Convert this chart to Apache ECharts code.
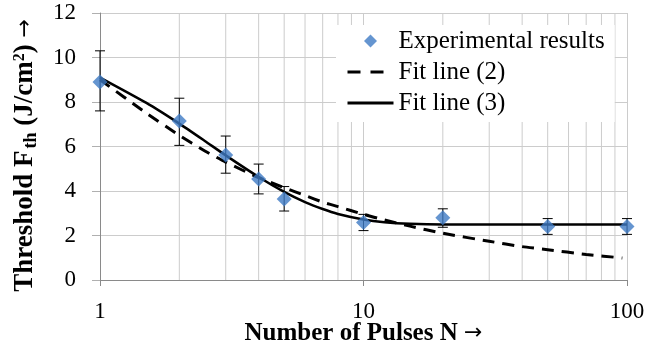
<!DOCTYPE html>
<html>
<head>
<meta charset="utf-8">
<script src="https://cdn.jsdelivr.net/npm/echarts@6/dist/echarts.min.js"></script>
<style>
html, body { margin: 0; padding: 0; background: #fff; }
#chart { width: 660px; height: 351px; }
</style>
</head>
<body>
<div id="chart"></div>
<script>
// number of pulses of the measurements
var pulses = [1, 2, 3, 4, 5, 10, 20, 50, 100];
// measured threshold and its error bar (low / high)
var threshold = [8.9, 7.15, 5.62, 4.54, 3.64, 2.58, 2.8, 2.41, 2.41];
var errLow = [7.6, 6.05, 4.8, 3.87, 3.1, 2.22, 2.37, 2.05, 2.05];
var errHigh = [10.3, 8.17, 6.47, 5.21, 4.2, 2.95, 3.2, 2.76, 2.76];

// fit line (2)
var fit2N = [1, 1.5, 2, 2.5, 3, 4, 5, 6, 7, 8, 10, 12, 15, 20, 30, 40, 50, 70, 96];
var fit2F = [9.0, 7.5, 6.5, 5.8, 5.3, 4.6, 4.15, 3.8, 3.5, 3.3, 2.95, 2.7, 2.42, 2.1, 1.74, 1.5, 1.36, 1.15, 0.99];

// fit line (3)
var fit3N = [1, 1.5, 2, 2.5, 3, 4, 5, 6, 7, 8, 10, 12, 15, 20, 30, 50, 100];
var fit3F = [9.1, 7.96, 7.03, 6.25, 5.6, 4.63, 3.96, 3.5, 3.19, 2.97, 2.72, 2.6, 2.53, 2.5, 2.5, 2.5, 2.5];

// minor vertical grid lines of the log axis
var minorX = [2, 3, 4, 5, 6, 7, 8, 9, 20, 30, 40, 50, 60, 70, 80, 90];

var yTicks = { min: 0, max: 12, step: 2 };

var serif = '"Liberation Serif", "Times New Roman", serif';
var blue = '#3e7bc4';

function zip(a, b) {
	var out = [];
	for (var i = 0; i < a.length; i++) out.push([a[i], b[i]]);
	return out;
}

var errData = [];
for (var i = 0; i < pulses.length; i++) {
	errData.push([pulses[i], errLow[i], errHigh[i]]);
}

// arrow glyph style used by both axis names
var arrStyle = { fontFamily: '"DejaVu Sans"', fontSize: 22, fontWeight: 'normal', color: '#000' };

var chart = echarts.init(document.getElementById('chart'), null, { renderer: 'canvas' });

var option = {
	animation: false,
	backgroundColor: '#fff',
	grid: { left: 100, right: 33, top: 13, bottom: 71, outerBoundsMode: 'none', containLabel: false },
	legend: {
		orient: 'vertical',
		left: 336,
		top: 25,
		padding: [3, 10, 6, 10],
		itemGap: 5,
		itemWidth: 46,
		itemHeight: 13,
		backgroundColor: '#fff',
		textStyle: { fontFamily: serif, fontSize: 25, color: '#000', lineHeight: 26 },
		data: [
			{ name: 'Experimental results', icon: 'path://M7,0L14,7L7,14L0,7Z', itemStyle: { color: blue } },
			{ name: 'Fit line (2)', itemStyle: { opacity: 0 }, lineStyle: { type: [13, 10], width: 3 } },
			{ name: 'Fit line (3)', itemStyle: { opacity: 0 }, lineStyle: { width: 3 } }
		]
	},
	xAxis: {
		type: 'log',
		logBase: 10,
		min: 1,
		max: 100,
		name: 'Number of Pulses N {arr|→}',
		nameLocation: 'middle',
		nameGap: 41,
		nameMoveOverlap: false,
		nameTextStyle: {
			fontFamily: serif, fontSize: 25, fontWeight: 'bold', color: '#000',
			rich: { arr: arrStyle }
		},
		axisLine: { show: true, lineStyle: { color: '#8a8a8a', width: 1 } },
		axisTick: { show: true, length: 6, lineStyle: { color: '#8a8a8a' } },
		axisLabel: { fontFamily: serif, fontSize: 23, color: '#000', margin: 20 },
		splitLine: { show: true, lineStyle: { color: '#cccccc', width: 1 } }
	},
	yAxis: {
		type: 'value',
		min: yTicks.min,
		max: yTicks.max,
		interval: yTicks.step,
		name: 'Threshold F{sub|th} (J/cm{sup|2}) {arr|→}',
		nameLocation: 'middle',
		nameRotate: 90,
		nameGap: 61,
		nameMoveOverlap: false,
		nameTextStyle: {
			fontFamily: serif, fontSize: 27, fontWeight: 'bold', color: '#000',
			padding: [0, 18, 0, 0],
			rich: {
				sub: { fontFamily: serif, fontSize: 18, fontWeight: 'bold', color: '#000', verticalAlign: 'bottom', padding: [0, 0, -1, 2] },
				sup: { fontFamily: serif, fontSize: 16, fontWeight: 'bold', color: '#000', verticalAlign: 'top' },
				arr: arrStyle
			}
		},
		axisLine: { show: true, lineStyle: { color: '#8a8a8a', width: 1 } },
		axisTick: { show: true, length: 8, lineStyle: { color: '#b0b0b0' } },
		axisLabel: { fontFamily: serif, fontSize: 23, color: '#000', margin: 24 },
		splitLine: { show: true, lineStyle: { color: '#cccccc', width: 1 } }
	},
	series: [
		{
			// minor grid
			type: 'custom',
			silent: true,
			z: 1,
			data: minorX.map(function(v) { return [v]; }),
			encode: { x: 0 },
			renderItem: function(params, api) {
				var p = api.coord([api.value(0), 0]);
				var cs = params.coordSys;
				return {
					type: 'line',
					shape: { x1: p[0], y1: cs.y, x2: p[0], y2: cs.y + cs.height },
					style: { stroke: '#cccccc', lineWidth: 1 }
				};
			}
		},
		{
			name: 'Fit line (2)',
			type: 'line',
			z: 3,
			data: zip(fit2N, fit2F),
			symbol: 'none',
			smooth: 0.2,
			lineStyle: { color: '#000', width: 3, type: [12, 8] },
			itemStyle: { color: '#000' }
		},
		{
			name: 'Fit line (3)',
			type: 'line',
			z: 3,
			data: zip(fit3N, fit3F),
			symbol: 'none',
			smooth: 0.2,
			lineStyle: { color: '#000', width: 2.5 },
			itemStyle: { color: '#000' }
		},
		{
			// error bars
			type: 'custom',
			silent: true,
			z: 4,
			data: errData,
			encode: { x: 0, y: [1, 2] },
			renderItem: function(params, api) {
				var x = api.value(0);
				var lo = api.coord([x, api.value(1)]);
				var hi = api.coord([x, api.value(2)]);
				var w = 5;
				var st = { stroke: '#000', lineWidth: 1 };
				return {
					type: 'group',
					children: [
						{ type: 'line', shape: { x1: lo[0], y1: lo[1], x2: hi[0], y2: hi[1] }, style: st },
						{ type: 'line', shape: { x1: hi[0] - w, y1: hi[1], x2: hi[0] + w, y2: hi[1] }, style: st },
						{ type: 'line', shape: { x1: lo[0] - w, y1: lo[1], x2: lo[0] + w, y2: lo[1] }, style: st }
					]
				};
			}
		},
		{
			name: 'Experimental results',
			type: 'scatter',
			z: 5,
			symbol: 'diamond',
			symbolSize: 15,
			data: zip(pulses, threshold),
			itemStyle: { color: blue }
		}
	]
};

chart.setOption(option);
</script>
</body>
</html>
